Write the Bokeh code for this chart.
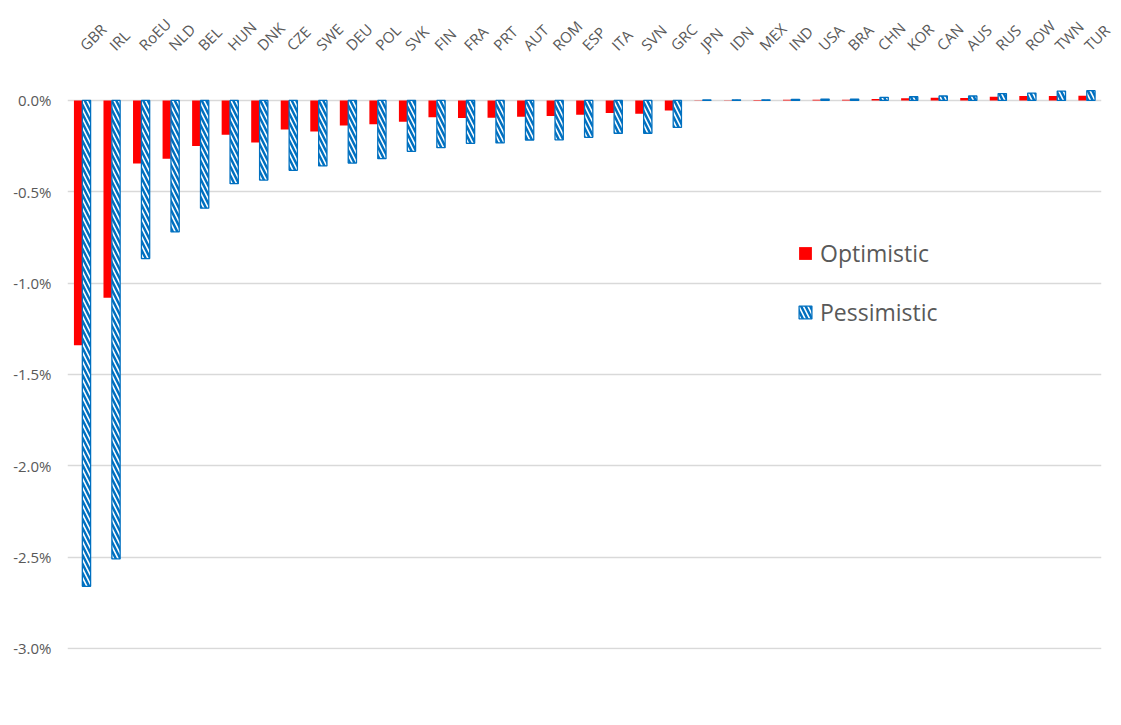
import math
from bokeh.plotting import figure
from bokeh.models import (ColumnDataSource, FixedTicker, PrintfTickFormatter,
                          Legend, LegendItem, Range1d)
from bokeh.transform import dodge
from bokeh.embed import file_html
from bokeh.resources import INLINE

countries = ["GBR", "IRL", "RoEU", "NLD", "BEL", "HUN", "DNK", "CZE", "SWE", "DEU",
             "POL", "SVK", "FIN", "FRA", "PRT", "AUT", "ROM", "ESP", "ITA", "SVN",
             "GRC", "JPN", "IDN", "MEX", "IND", "USA", "BRA", "CHN", "KOR", "CAN",
             "AUS", "RUS", "ROW", "TWN", "TUR"]
# values in percent
optimistic = [-1.34, -1.08, -0.345, -0.32, -0.25, -0.188, -0.23, -0.16, -0.17, -0.138,
              -0.131, -0.117, -0.093, -0.097, -0.095, -0.089, -0.085, -0.078, -0.069, -0.073,
              -0.055, 0.001, 0.001, 0.002, 0.004, 0.004, 0.004, 0.008, 0.011, 0.015,
              0.013, 0.020, 0.024, 0.024, 0.026]
pessimistic = [-2.66, -2.51, -0.866, -0.72, -0.59, -0.456, -0.436, -0.383, -0.359, -0.343,
               -0.319, -0.279, -0.259, -0.235, -0.233, -0.217, -0.216, -0.202, -0.18, -0.18,
               -0.148, 0.002, 0.003, 0.003, 0.005, 0.007, 0.007, 0.017, 0.020, 0.024,
               0.024, 0.037, 0.040, 0.051, 0.053]
y_ticks = [-3.0, -2.5, -2.0, -1.5, -1.0, -0.5, 0.0]
series_names = ["Optimistic", "Pessimistic"]

src = ColumnDataSource(dict(cat=countries, opt=optimistic, pes=pessimistic))

FONT = "Open Sans"
GRAY_TXT = "#595959"
RED = "#FF0000"
BLUE = "#0070C0"

p = figure(x_range=countries, y_range=Range1d(-3.006, 0.2457),
           width=1119, height=723, frame_width=1034, frame_height=594,
           output_backend="svg", toolbar_location=None,
           x_axis_location="above", min_border_left=67, min_border_right=18,
           min_border_top=55, min_border_bottom=74)
p.outline_line_color = None
p.background_fill_color = "white"
p.border_fill_color = "white"

r_opt = p.vbar(x=dodge("cat", -0.142, range=p.x_range), top="opt", bottom=0,
               width=0.28, source=src, fill_color=RED, line_color=None)
r_pes = p.vbar(x=dodge("cat", 0.142, range=p.x_range), top="pes", bottom=0,
               width=0.28, source=src, fill_color="white", line_color=BLUE,
               line_width=1.3, hatch_pattern="\\", hatch_color=BLUE,
               hatch_scale=9, hatch_weight=2.5)

# y axis
p.yaxis.ticker = FixedTicker(ticks=y_ticks)
p.yaxis.formatter = PrintfTickFormatter(format="%.1f%%")
p.yaxis.axis_line_color = None
p.yaxis.major_tick_line_color = None
p.yaxis.major_tick_out = 0
p.yaxis.major_tick_in = 0
p.yaxis.minor_tick_line_color = None
p.yaxis.major_label_text_font = FONT
p.yaxis.major_label_text_font_size = "15px"
p.yaxis.major_label_text_color = GRAY_TXT
p.yaxis.major_label_standoff = 16

# x axis (above)
p.xaxis.axis_line_color = None
p.xaxis.major_tick_line_color = None
p.xaxis.major_tick_out = 0
p.xaxis.major_tick_in = 0
p.xaxis.minor_tick_line_color = None
p.xaxis.major_label_orientation = math.pi / 4
p.xaxis.major_label_text_font = FONT
p.xaxis.major_label_text_font_size = "15px"
p.xaxis.major_label_text_color = GRAY_TXT
p.xaxis.major_label_standoff = 8

p.xgrid.grid_line_color = None
p.ygrid.ticker = FixedTicker(ticks=y_ticks)
p.ygrid.grid_line_color = "#D9D9D9"
p.ygrid.grid_line_width = 1.4

legend = Legend(items=[LegendItem(label=series_names[0], renderers=[r_opt]),
                       LegendItem(label=series_names[1], renderers=[r_pes])],
                location=(730, 321), orientation="vertical",
                glyph_width=16, glyph_height=16, label_height=24,
                spacing=27, padding=0, margin=0, label_standoff=7,
                border_line_color=None, background_fill_alpha=0,
                label_text_font=FONT, label_text_font_size="23px",
                label_text_color=GRAY_TXT)
p.add_layout(legend, "center")

open("out.html", "w").write(file_html(p, INLINE))
